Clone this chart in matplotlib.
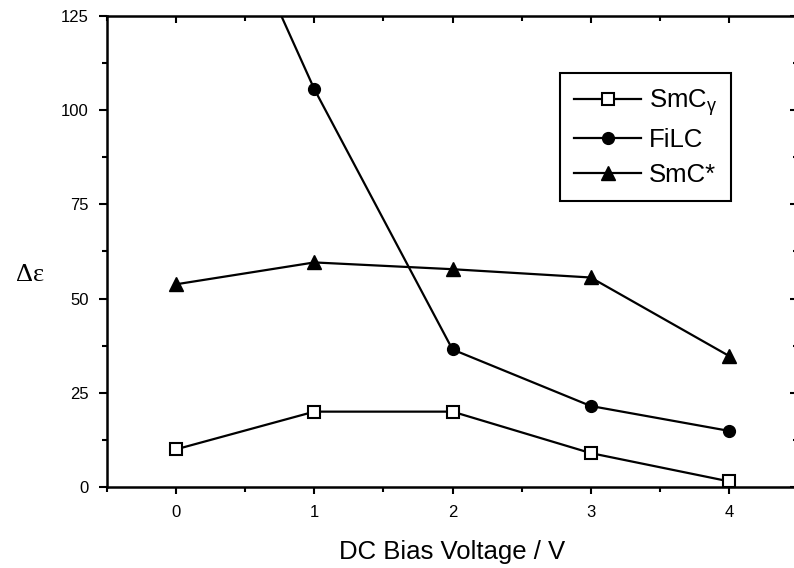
import numpy as np
import matplotlib.pyplot as plt
from matplotlib.ticker import MultipleLocator

# data
voltage = [0, 1, 2, 3, 4]
smc_gamma = [10, 20, 20, 9, 1.5]
filc = [187, 105.6, 36.5, 21.5, 14.9]
smc_star = [53.8, 59.6, 57.8, 55.6, 34.8]

plt.rcParams['font.family'] = ['Liberation Sans', 'DejaVu Sans']

fig = plt.figure(figsize=(7.94, 5.68), dpi=100)
ax = fig.add_axes([107/794, 1 - 487/568, (798 - 107)/794, (487 - 16)/568])

ax.plot(voltage, smc_gamma, '-s', color='black', lw=1.6, ms=8,
        mfc='white', mec='black', mew=1.5, label=r'SmC$_{\mathregular{\gamma}}$',
        clip_on=False)
ax.plot(voltage, filc, '-o', color='black', lw=1.6, ms=8.5, label='FiLC')
ax.plot(voltage, smc_star, '-^', color='black', lw=1.6, ms=10, label='SmC*')

ax.set_xlim(-0.5, 4.5)
ax.set_ylim(0, 125)
ax.xaxis.set_major_locator(MultipleLocator(1))
ax.xaxis.set_minor_locator(MultipleLocator(0.5))
ax.yaxis.set_major_locator(MultipleLocator(25))
ax.yaxis.set_minor_locator(MultipleLocator(12.5))

for s in ax.spines.values():
    s.set_linewidth(1.8)

ax.tick_params(which='both', top=True, right=True, labelsize=12, width=1.5)
ax.tick_params(axis='x', which='major', direction='out', length=5, pad=8)
ax.tick_params(axis='y', which='major', direction='out', length=6, pad=7)
ax.tick_params(which='minor', direction='out', length=3.5)
# top / right ticks point inward like the original
for t in ax.xaxis.get_major_ticks() + ax.xaxis.get_minor_ticks():
    t.tick2line.set_marker(3)
for t in ax.yaxis.get_major_ticks() + ax.yaxis.get_minor_ticks():
    t.tick2line.set_marker(0)

ax.set_xlabel('DC Bias Voltage / V', fontsize=18.5, labelpad=14)
fig.text(30/794, 1 - 275/568, 'Δε', fontsize=19,
         ha='center', va='center', family=['Liberation Serif', 'DejaVu Serif'])

leg = ax.legend(loc='upper left', bbox_to_anchor=(0.656, 0.879), fontsize=18.5,
                handlelength=2.6, handletextpad=0.3, borderpad=0.55,
                borderaxespad=0, labelspacing=0.4, fancybox=False,
                framealpha=1, edgecolor='black')
leg.get_frame().set_linewidth(1.5)

fig.savefig('out.png', dpi=100)
